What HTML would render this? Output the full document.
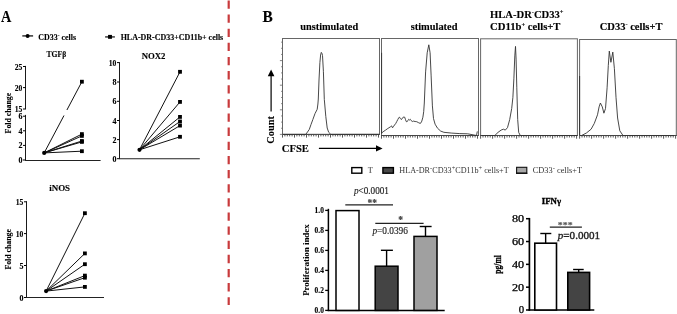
<!DOCTYPE html>
<html><head><meta charset="utf-8"><style>
html,body{margin:0;padding:0;background:#fff;}
body{width:677px;height:314px;overflow:hidden;font-family:"Liberation Serif",serif;}
svg{display:block;will-change:transform;}
</style></head><body>
<svg width="677" height="314" viewBox="0 0 677 314">
<rect width="677" height="314" fill="#fff"/>
<text x="1" y="21.7" font-size="16" font-weight="bold" fill="#000" text-anchor="start" font-family="Liberation Serif" stroke="#000" stroke-width="0.12" textLength="10.3" lengthAdjust="spacingAndGlyphs" >A</text>
<line x1="22.3" y1="35.9" x2="33.1" y2="35.9" stroke="#333" stroke-width="1.5" />
<circle cx="27.6" cy="35.9" r="2.0" fill="#000"/>
<text x="38.2" y="39.9" font-size="8.2" font-weight="bold" fill="#000" text-anchor="start" font-family="Liberation Serif" stroke="#000" stroke-width="0.12" textLength="37.8" lengthAdjust="spacingAndGlyphs" >CD33<tspan dy="-3" font-size="5.5">-</tspan><tspan dy="3"> cells</tspan></text>
<line x1="105.1" y1="36.9" x2="114.9" y2="36.9" stroke="#555" stroke-width="1.7" />
<rect x="108.05" y="34.90" width="3.9" height="3.9" fill="#000"/>
<text x="120.7" y="40.2" font-size="8.2" font-weight="bold" fill="#000" text-anchor="start" font-family="Liberation Serif" stroke="#000" stroke-width="0.12" textLength="102.5" lengthAdjust="spacingAndGlyphs" >HLA-DR-CD33+CD11b+ cells</text>
<text x="46.5" y="56.9" font-size="8.5" font-weight="bold" fill="#000" text-anchor="start" font-family="Liberation Serif" stroke="#000" stroke-width="0.12" textLength="19.7" lengthAdjust="spacingAndGlyphs" >TGFβ</text>
<line x1="25.5" y1="65.9" x2="25.5" y2="109.4" stroke="#1a1a1a" stroke-width="1.0" />
<line x1="25.5" y1="114.9" x2="25.5" y2="161" stroke="#1a1a1a" stroke-width="1.0" />
<line x1="23.0" y1="66.5" x2="25.5" y2="66.5" stroke="#000" stroke-width="1.0" />
<text x="22.4" y="69.5" font-size="7.8" font-weight="bold" fill="#000" text-anchor="end" font-family="Liberation Serif" stroke="#000" stroke-width="0.12" textLength="7.6" lengthAdjust="spacingAndGlyphs" >25</text>
<line x1="23.0" y1="87.6" x2="25.5" y2="87.6" stroke="#000" stroke-width="1.0" />
<text x="22.4" y="90.6" font-size="7.8" font-weight="bold" fill="#000" text-anchor="end" font-family="Liberation Serif" stroke="#000" stroke-width="0.12" textLength="7.6" lengthAdjust="spacingAndGlyphs" >20</text>
<line x1="23.0" y1="109" x2="25.5" y2="109" stroke="#000" stroke-width="1.0" />
<text x="22.4" y="112.0" font-size="7.8" font-weight="bold" fill="#000" text-anchor="end" font-family="Liberation Serif" stroke="#000" stroke-width="0.12" textLength="7.6" lengthAdjust="spacingAndGlyphs" >15</text>
<line x1="23.0" y1="116.2" x2="25.5" y2="116.2" stroke="#000" stroke-width="1.0" />
<text x="22.4" y="119.2" font-size="7.8" font-weight="bold" fill="#000" text-anchor="end" font-family="Liberation Serif" stroke="#000" stroke-width="0.12" textLength="4.0" lengthAdjust="spacingAndGlyphs" >6</text>
<line x1="23.0" y1="130.8" x2="25.5" y2="130.8" stroke="#000" stroke-width="1.0" />
<text x="22.4" y="133.8" font-size="7.8" font-weight="bold" fill="#000" text-anchor="end" font-family="Liberation Serif" stroke="#000" stroke-width="0.12" textLength="4.0" lengthAdjust="spacingAndGlyphs" >4</text>
<line x1="23.0" y1="145.4" x2="25.5" y2="145.4" stroke="#000" stroke-width="1.0" />
<text x="22.4" y="148.4" font-size="7.8" font-weight="bold" fill="#000" text-anchor="end" font-family="Liberation Serif" stroke="#000" stroke-width="0.12" textLength="4.0" lengthAdjust="spacingAndGlyphs" >2</text>
<line x1="23.0" y1="160" x2="25.5" y2="160" stroke="#000" stroke-width="1.0" />
<text x="22.4" y="163.0" font-size="7.8" font-weight="bold" fill="#000" text-anchor="end" font-family="Liberation Serif" stroke="#000" stroke-width="0.12" textLength="4.0" lengthAdjust="spacingAndGlyphs" >0</text>
<line x1="25" y1="160.5" x2="100.6" y2="160.5" stroke="#222" stroke-width="1.1" />
<line x1="44.2" y1="152.9" x2="81.9" y2="81.7" stroke="#111" stroke-width="1.0" />
<line x1="44.2" y1="152.9" x2="81.9" y2="134.1" stroke="#111" stroke-width="1.0" />
<line x1="44.2" y1="152.9" x2="81.9" y2="135.9" stroke="#111" stroke-width="1.0" />
<line x1="44.2" y1="152.9" x2="81.9" y2="141.0" stroke="#111" stroke-width="1.0" />
<line x1="44.2" y1="152.9" x2="81.9" y2="141.9" stroke="#111" stroke-width="1.0" />
<line x1="44.2" y1="152.9" x2="81.9" y2="151.2" stroke="#111" stroke-width="1.0" />
<rect x="60" y="110" width="8" height="5.5" fill="#fff"/>
<rect x="80.00" y="79.80" width="3.8" height="3.8" fill="#000"/>
<rect x="80.00" y="132.20" width="3.8" height="3.8" fill="#000"/>
<rect x="80.00" y="134.00" width="3.8" height="3.8" fill="#000"/>
<rect x="80.00" y="139.10" width="3.8" height="3.8" fill="#000"/>
<rect x="80.00" y="140.00" width="3.8" height="3.8" fill="#000"/>
<rect x="80.00" y="149.30" width="3.8" height="3.8" fill="#000"/>
<circle cx="44.2" cy="152.9" r="2.1" fill="#000"/>
<text x="141.7" y="58.5" font-size="8.5" font-weight="bold" fill="#000" text-anchor="start" font-family="Liberation Serif" stroke="#000" stroke-width="0.12" textLength="23.7" lengthAdjust="spacingAndGlyphs" >NOX2</text>
<line x1="119.5" y1="62.2" x2="119.5" y2="159" stroke="#1a1a1a" stroke-width="1.0" />
<line x1="117.0" y1="62.6" x2="119.5" y2="62.6" stroke="#000" stroke-width="1.0" />
<text x="116.4" y="65.6" font-size="7.8" font-weight="bold" fill="#000" text-anchor="end" font-family="Liberation Serif" stroke="#000" stroke-width="0.12" textLength="7.6" lengthAdjust="spacingAndGlyphs" >10</text>
<line x1="117.0" y1="82.0" x2="119.5" y2="82.0" stroke="#000" stroke-width="1.0" />
<text x="116.4" y="85.0" font-size="7.8" font-weight="bold" fill="#000" text-anchor="end" font-family="Liberation Serif" stroke="#000" stroke-width="0.12" textLength="4.0" lengthAdjust="spacingAndGlyphs" >8</text>
<line x1="117.0" y1="101.3" x2="119.5" y2="101.3" stroke="#000" stroke-width="1.0" />
<text x="116.4" y="104.3" font-size="7.8" font-weight="bold" fill="#000" text-anchor="end" font-family="Liberation Serif" stroke="#000" stroke-width="0.12" textLength="4.0" lengthAdjust="spacingAndGlyphs" >6</text>
<line x1="117.0" y1="120.5" x2="119.5" y2="120.5" stroke="#000" stroke-width="1.0" />
<text x="116.4" y="123.5" font-size="7.8" font-weight="bold" fill="#000" text-anchor="end" font-family="Liberation Serif" stroke="#000" stroke-width="0.12" textLength="4.0" lengthAdjust="spacingAndGlyphs" >4</text>
<line x1="117.0" y1="139.6" x2="119.5" y2="139.6" stroke="#000" stroke-width="1.0" />
<text x="116.4" y="142.6" font-size="7.8" font-weight="bold" fill="#000" text-anchor="end" font-family="Liberation Serif" stroke="#000" stroke-width="0.12" textLength="4.0" lengthAdjust="spacingAndGlyphs" >2</text>
<line x1="117.0" y1="158.7" x2="119.5" y2="158.7" stroke="#000" stroke-width="1.0" />
<text x="116.4" y="161.7" font-size="7.8" font-weight="bold" fill="#000" text-anchor="end" font-family="Liberation Serif" stroke="#000" stroke-width="0.12" textLength="4.0" lengthAdjust="spacingAndGlyphs" >0</text>
<line x1="119" y1="158.7" x2="199.8" y2="158.7" stroke="#222" stroke-width="1.1" />
<line x1="139.5" y1="149.8" x2="180" y2="71.8" stroke="#111" stroke-width="1.0" />
<line x1="139.5" y1="149.8" x2="180" y2="101.9" stroke="#111" stroke-width="1.0" />
<line x1="139.5" y1="149.8" x2="180" y2="116.9" stroke="#111" stroke-width="1.0" />
<line x1="139.5" y1="149.8" x2="180" y2="121.5" stroke="#111" stroke-width="1.0" />
<line x1="139.5" y1="149.8" x2="180" y2="125.6" stroke="#111" stroke-width="1.0" />
<line x1="139.5" y1="149.8" x2="180" y2="136.8" stroke="#111" stroke-width="1.0" />
<rect x="178.10" y="69.90" width="3.8" height="3.8" fill="#000"/>
<rect x="178.10" y="100.00" width="3.8" height="3.8" fill="#000"/>
<rect x="178.10" y="115.00" width="3.8" height="3.8" fill="#000"/>
<rect x="178.10" y="119.60" width="3.8" height="3.8" fill="#000"/>
<rect x="178.10" y="123.70" width="3.8" height="3.8" fill="#000"/>
<rect x="178.10" y="134.90" width="3.8" height="3.8" fill="#000"/>
<circle cx="139.5" cy="149.8" r="2.1" fill="#000"/>
<text x="49.2" y="190.9" font-size="8.7" font-weight="bold" fill="#000" text-anchor="start" font-family="Liberation Serif" stroke="#000" stroke-width="0.12" textLength="20.9" lengthAdjust="spacingAndGlyphs" >iNOS</text>
<line x1="26.5" y1="201.2" x2="26.5" y2="298" stroke="#1a1a1a" stroke-width="1.0" />
<line x1="24.0" y1="201.8" x2="26.5" y2="201.8" stroke="#000" stroke-width="1.0" />
<text x="23.4" y="204.8" font-size="7.8" font-weight="bold" fill="#000" text-anchor="end" font-family="Liberation Serif" stroke="#000" stroke-width="0.12" textLength="7.6" lengthAdjust="spacingAndGlyphs" >15</text>
<line x1="24.0" y1="233.6" x2="26.5" y2="233.6" stroke="#000" stroke-width="1.0" />
<text x="23.4" y="236.6" font-size="7.8" font-weight="bold" fill="#000" text-anchor="end" font-family="Liberation Serif" stroke="#000" stroke-width="0.12" textLength="7.6" lengthAdjust="spacingAndGlyphs" >10</text>
<line x1="24.0" y1="265.5" x2="26.5" y2="265.5" stroke="#000" stroke-width="1.0" />
<text x="23.4" y="268.5" font-size="7.8" font-weight="bold" fill="#000" text-anchor="end" font-family="Liberation Serif" stroke="#000" stroke-width="0.12" textLength="4.0" lengthAdjust="spacingAndGlyphs" >5</text>
<line x1="24.0" y1="297.5" x2="26.5" y2="297.5" stroke="#000" stroke-width="1.0" />
<text x="23.4" y="300.5" font-size="7.8" font-weight="bold" fill="#000" text-anchor="end" font-family="Liberation Serif" stroke="#000" stroke-width="0.12" textLength="4.0" lengthAdjust="spacingAndGlyphs" >0</text>
<line x1="26" y1="297.5" x2="104" y2="297.5" stroke="#222" stroke-width="1.1" />
<line x1="46.1" y1="291.1" x2="84.9" y2="213.2" stroke="#111" stroke-width="1.0" />
<line x1="46.1" y1="291.1" x2="84.9" y2="253.4" stroke="#111" stroke-width="1.0" />
<line x1="46.1" y1="291.1" x2="84.9" y2="264.2" stroke="#111" stroke-width="1.0" />
<line x1="46.1" y1="291.1" x2="84.9" y2="275.6" stroke="#111" stroke-width="1.0" />
<line x1="46.1" y1="291.1" x2="84.9" y2="277.7" stroke="#111" stroke-width="1.0" />
<line x1="46.1" y1="291.1" x2="84.9" y2="286.9" stroke="#111" stroke-width="1.0" />
<rect x="83.00" y="211.30" width="3.8" height="3.8" fill="#000"/>
<rect x="83.00" y="251.50" width="3.8" height="3.8" fill="#000"/>
<rect x="83.00" y="262.30" width="3.8" height="3.8" fill="#000"/>
<rect x="83.00" y="273.70" width="3.8" height="3.8" fill="#000"/>
<rect x="83.00" y="275.80" width="3.8" height="3.8" fill="#000"/>
<rect x="83.00" y="285.00" width="3.8" height="3.8" fill="#000"/>
<circle cx="46.1" cy="291.1" r="2.1" fill="#000"/>
<text x="10.9" y="113.1" font-size="7.8" font-weight="bold" fill="#000" text-anchor="middle" font-family="Liberation Serif" stroke="#000" stroke-width="0.12" textLength="40.6" lengthAdjust="spacingAndGlyphs" transform="rotate(-90 10.9 113.1)" >Fold change</text>
<text x="10.9" y="249.3" font-size="7.8" font-weight="bold" fill="#000" text-anchor="middle" font-family="Liberation Serif" stroke="#000" stroke-width="0.12" textLength="40.6" lengthAdjust="spacingAndGlyphs" transform="rotate(-90 10.9 249.3)" >Fold change</text>
<line x1="228.7" y1="0.4" x2="228.7" y2="305" stroke="#c83a3c" stroke-width="2.2" stroke-dasharray="8.3 5.835"/>
<text x="262.5" y="21.8" font-size="16" font-weight="bold" fill="#000" text-anchor="start" font-family="Liberation Serif" stroke="#000" stroke-width="0.12" textLength="10.3" lengthAdjust="spacingAndGlyphs" >B</text>
<text x="300.2" y="29.9" font-size="10" font-weight="bold" fill="#000" text-anchor="start" font-family="Liberation Serif" stroke="#000" stroke-width="0.12" textLength="58" lengthAdjust="spacingAndGlyphs" >unstimulated</text>
<text x="410.7" y="29.9" font-size="10" font-weight="bold" fill="#000" text-anchor="start" font-family="Liberation Serif" stroke="#000" stroke-width="0.12" textLength="46.8" lengthAdjust="spacingAndGlyphs" >stimulated</text>
<text x="490" y="17.9" font-size="10" font-weight="bold" fill="#000" text-anchor="start" font-family="Liberation Serif" stroke="#000" stroke-width="0.12" textLength="73.5" lengthAdjust="spacingAndGlyphs" >HLA-DR<tspan dy="-3.5" font-size="6">-</tspan><tspan dy="3.5">CD33</tspan><tspan dy="-3.5" font-size="6">+</tspan></text>
<text x="490" y="30" font-size="10" font-weight="bold" fill="#000" text-anchor="start" font-family="Liberation Serif" stroke="#000" stroke-width="0.12" textLength="70.5" lengthAdjust="spacingAndGlyphs" >CD11b<tspan dy="-3.5" font-size="6">+</tspan><tspan dy="3.5"> cells+T</tspan></text>
<text x="599.7" y="29.9" font-size="10" font-weight="bold" fill="#000" text-anchor="start" font-family="Liberation Serif" stroke="#000" stroke-width="0.12" textLength="62.8" lengthAdjust="spacingAndGlyphs" >CD33<tspan dy="-3.5" font-size="6">-</tspan><tspan dy="3.5"> cells+T</tspan></text>
<rect x="282.5" y="38.5" width="97.0" height="95.9" fill="none" stroke="#666" stroke-width="1"/>
<line x1="282.0" y1="134.4" x2="380.0" y2="134.4" stroke="#444" stroke-width="0.9" />
<line x1="282.50" y1="134.4" x2="282.50" y2="137.6" stroke="#444" stroke-width="0.9" />
<line x1="284.90" y1="134.4" x2="284.90" y2="136.4" stroke="#444" stroke-width="0.9" />
<line x1="287.30" y1="134.4" x2="287.30" y2="136.4" stroke="#444" stroke-width="0.9" />
<line x1="289.70" y1="134.4" x2="289.70" y2="136.4" stroke="#444" stroke-width="0.9" />
<line x1="292.10" y1="134.4" x2="292.10" y2="136.4" stroke="#444" stroke-width="0.9" />
<line x1="294.50" y1="134.4" x2="294.50" y2="137.6" stroke="#444" stroke-width="0.9" />
<line x1="296.90" y1="134.4" x2="296.90" y2="136.4" stroke="#444" stroke-width="0.9" />
<line x1="299.30" y1="134.4" x2="299.30" y2="136.4" stroke="#444" stroke-width="0.9" />
<line x1="301.70" y1="134.4" x2="301.70" y2="136.4" stroke="#444" stroke-width="0.9" />
<line x1="304.10" y1="134.4" x2="304.10" y2="136.4" stroke="#444" stroke-width="0.9" />
<line x1="306.50" y1="134.4" x2="306.50" y2="137.6" stroke="#444" stroke-width="0.9" />
<line x1="308.90" y1="134.4" x2="308.90" y2="136.4" stroke="#444" stroke-width="0.9" />
<line x1="311.30" y1="134.4" x2="311.30" y2="136.4" stroke="#444" stroke-width="0.9" />
<line x1="313.70" y1="134.4" x2="313.70" y2="136.4" stroke="#444" stroke-width="0.9" />
<line x1="316.10" y1="134.4" x2="316.10" y2="136.4" stroke="#444" stroke-width="0.9" />
<line x1="318.50" y1="134.4" x2="318.50" y2="137.6" stroke="#444" stroke-width="0.9" />
<line x1="320.90" y1="134.4" x2="320.90" y2="136.4" stroke="#444" stroke-width="0.9" />
<line x1="323.30" y1="134.4" x2="323.30" y2="136.4" stroke="#444" stroke-width="0.9" />
<line x1="325.70" y1="134.4" x2="325.70" y2="136.4" stroke="#444" stroke-width="0.9" />
<line x1="328.10" y1="134.4" x2="328.10" y2="136.4" stroke="#444" stroke-width="0.9" />
<line x1="330.50" y1="134.4" x2="330.50" y2="137.6" stroke="#444" stroke-width="0.9" />
<line x1="332.90" y1="134.4" x2="332.90" y2="136.4" stroke="#444" stroke-width="0.9" />
<line x1="335.30" y1="134.4" x2="335.30" y2="136.4" stroke="#444" stroke-width="0.9" />
<line x1="337.70" y1="134.4" x2="337.70" y2="136.4" stroke="#444" stroke-width="0.9" />
<line x1="340.10" y1="134.4" x2="340.10" y2="136.4" stroke="#444" stroke-width="0.9" />
<line x1="342.50" y1="134.4" x2="342.50" y2="137.6" stroke="#444" stroke-width="0.9" />
<line x1="344.90" y1="134.4" x2="344.90" y2="136.4" stroke="#444" stroke-width="0.9" />
<line x1="347.30" y1="134.4" x2="347.30" y2="136.4" stroke="#444" stroke-width="0.9" />
<line x1="349.70" y1="134.4" x2="349.70" y2="136.4" stroke="#444" stroke-width="0.9" />
<line x1="352.10" y1="134.4" x2="352.10" y2="136.4" stroke="#444" stroke-width="0.9" />
<line x1="354.50" y1="134.4" x2="354.50" y2="137.6" stroke="#444" stroke-width="0.9" />
<line x1="356.90" y1="134.4" x2="356.90" y2="136.4" stroke="#444" stroke-width="0.9" />
<line x1="359.30" y1="134.4" x2="359.30" y2="136.4" stroke="#444" stroke-width="0.9" />
<line x1="361.70" y1="134.4" x2="361.70" y2="136.4" stroke="#444" stroke-width="0.9" />
<line x1="364.10" y1="134.4" x2="364.10" y2="136.4" stroke="#444" stroke-width="0.9" />
<line x1="366.50" y1="134.4" x2="366.50" y2="137.6" stroke="#444" stroke-width="0.9" />
<line x1="368.90" y1="134.4" x2="368.90" y2="136.4" stroke="#444" stroke-width="0.9" />
<line x1="371.30" y1="134.4" x2="371.30" y2="136.4" stroke="#444" stroke-width="0.9" />
<line x1="373.70" y1="134.4" x2="373.70" y2="136.4" stroke="#444" stroke-width="0.9" />
<line x1="376.10" y1="134.4" x2="376.10" y2="136.4" stroke="#444" stroke-width="0.9" />
<line x1="378.50" y1="134.4" x2="378.50" y2="137.6" stroke="#444" stroke-width="0.9" />
<rect x="381.5" y="38.5" width="97.0" height="97.0" fill="none" stroke="#666" stroke-width="1"/>
<line x1="381.0" y1="135.5" x2="479.0" y2="135.5" stroke="#444" stroke-width="0.9" />
<line x1="381.50" y1="135.5" x2="381.50" y2="138.7" stroke="#444" stroke-width="0.9" />
<line x1="383.90" y1="135.5" x2="383.90" y2="137.5" stroke="#444" stroke-width="0.9" />
<line x1="386.30" y1="135.5" x2="386.30" y2="137.5" stroke="#444" stroke-width="0.9" />
<line x1="388.70" y1="135.5" x2="388.70" y2="137.5" stroke="#444" stroke-width="0.9" />
<line x1="391.10" y1="135.5" x2="391.10" y2="137.5" stroke="#444" stroke-width="0.9" />
<line x1="393.50" y1="135.5" x2="393.50" y2="138.7" stroke="#444" stroke-width="0.9" />
<line x1="395.90" y1="135.5" x2="395.90" y2="137.5" stroke="#444" stroke-width="0.9" />
<line x1="398.30" y1="135.5" x2="398.30" y2="137.5" stroke="#444" stroke-width="0.9" />
<line x1="400.70" y1="135.5" x2="400.70" y2="137.5" stroke="#444" stroke-width="0.9" />
<line x1="403.10" y1="135.5" x2="403.10" y2="137.5" stroke="#444" stroke-width="0.9" />
<line x1="405.50" y1="135.5" x2="405.50" y2="138.7" stroke="#444" stroke-width="0.9" />
<line x1="407.90" y1="135.5" x2="407.90" y2="137.5" stroke="#444" stroke-width="0.9" />
<line x1="410.30" y1="135.5" x2="410.30" y2="137.5" stroke="#444" stroke-width="0.9" />
<line x1="412.70" y1="135.5" x2="412.70" y2="137.5" stroke="#444" stroke-width="0.9" />
<line x1="415.10" y1="135.5" x2="415.10" y2="137.5" stroke="#444" stroke-width="0.9" />
<line x1="417.50" y1="135.5" x2="417.50" y2="138.7" stroke="#444" stroke-width="0.9" />
<line x1="419.90" y1="135.5" x2="419.90" y2="137.5" stroke="#444" stroke-width="0.9" />
<line x1="422.30" y1="135.5" x2="422.30" y2="137.5" stroke="#444" stroke-width="0.9" />
<line x1="424.70" y1="135.5" x2="424.70" y2="137.5" stroke="#444" stroke-width="0.9" />
<line x1="427.10" y1="135.5" x2="427.10" y2="137.5" stroke="#444" stroke-width="0.9" />
<line x1="429.50" y1="135.5" x2="429.50" y2="138.7" stroke="#444" stroke-width="0.9" />
<line x1="431.90" y1="135.5" x2="431.90" y2="137.5" stroke="#444" stroke-width="0.9" />
<line x1="434.30" y1="135.5" x2="434.30" y2="137.5" stroke="#444" stroke-width="0.9" />
<line x1="436.70" y1="135.5" x2="436.70" y2="137.5" stroke="#444" stroke-width="0.9" />
<line x1="439.10" y1="135.5" x2="439.10" y2="137.5" stroke="#444" stroke-width="0.9" />
<line x1="441.50" y1="135.5" x2="441.50" y2="138.7" stroke="#444" stroke-width="0.9" />
<line x1="443.90" y1="135.5" x2="443.90" y2="137.5" stroke="#444" stroke-width="0.9" />
<line x1="446.30" y1="135.5" x2="446.30" y2="137.5" stroke="#444" stroke-width="0.9" />
<line x1="448.70" y1="135.5" x2="448.70" y2="137.5" stroke="#444" stroke-width="0.9" />
<line x1="451.10" y1="135.5" x2="451.10" y2="137.5" stroke="#444" stroke-width="0.9" />
<line x1="453.50" y1="135.5" x2="453.50" y2="138.7" stroke="#444" stroke-width="0.9" />
<line x1="455.90" y1="135.5" x2="455.90" y2="137.5" stroke="#444" stroke-width="0.9" />
<line x1="458.30" y1="135.5" x2="458.30" y2="137.5" stroke="#444" stroke-width="0.9" />
<line x1="460.70" y1="135.5" x2="460.70" y2="137.5" stroke="#444" stroke-width="0.9" />
<line x1="463.10" y1="135.5" x2="463.10" y2="137.5" stroke="#444" stroke-width="0.9" />
<line x1="465.50" y1="135.5" x2="465.50" y2="138.7" stroke="#444" stroke-width="0.9" />
<line x1="467.90" y1="135.5" x2="467.90" y2="137.5" stroke="#444" stroke-width="0.9" />
<line x1="470.30" y1="135.5" x2="470.30" y2="137.5" stroke="#444" stroke-width="0.9" />
<line x1="472.70" y1="135.5" x2="472.70" y2="137.5" stroke="#444" stroke-width="0.9" />
<line x1="475.10" y1="135.5" x2="475.10" y2="137.5" stroke="#444" stroke-width="0.9" />
<line x1="477.50" y1="135.5" x2="477.50" y2="138.7" stroke="#444" stroke-width="0.9" />
<rect x="480.6" y="38.8" width="96.79999999999995" height="96.7" fill="none" stroke="#666" stroke-width="1"/>
<line x1="480.1" y1="135.5" x2="577.9" y2="135.5" stroke="#444" stroke-width="0.9" />
<line x1="480.60" y1="135.5" x2="480.60" y2="138.7" stroke="#444" stroke-width="0.9" />
<line x1="483.00" y1="135.5" x2="483.00" y2="137.5" stroke="#444" stroke-width="0.9" />
<line x1="485.40" y1="135.5" x2="485.40" y2="137.5" stroke="#444" stroke-width="0.9" />
<line x1="487.80" y1="135.5" x2="487.80" y2="137.5" stroke="#444" stroke-width="0.9" />
<line x1="490.20" y1="135.5" x2="490.20" y2="137.5" stroke="#444" stroke-width="0.9" />
<line x1="492.60" y1="135.5" x2="492.60" y2="138.7" stroke="#444" stroke-width="0.9" />
<line x1="495.00" y1="135.5" x2="495.00" y2="137.5" stroke="#444" stroke-width="0.9" />
<line x1="497.40" y1="135.5" x2="497.40" y2="137.5" stroke="#444" stroke-width="0.9" />
<line x1="499.80" y1="135.5" x2="499.80" y2="137.5" stroke="#444" stroke-width="0.9" />
<line x1="502.20" y1="135.5" x2="502.20" y2="137.5" stroke="#444" stroke-width="0.9" />
<line x1="504.60" y1="135.5" x2="504.60" y2="138.7" stroke="#444" stroke-width="0.9" />
<line x1="507.00" y1="135.5" x2="507.00" y2="137.5" stroke="#444" stroke-width="0.9" />
<line x1="509.40" y1="135.5" x2="509.40" y2="137.5" stroke="#444" stroke-width="0.9" />
<line x1="511.80" y1="135.5" x2="511.80" y2="137.5" stroke="#444" stroke-width="0.9" />
<line x1="514.20" y1="135.5" x2="514.20" y2="137.5" stroke="#444" stroke-width="0.9" />
<line x1="516.60" y1="135.5" x2="516.60" y2="138.7" stroke="#444" stroke-width="0.9" />
<line x1="519.00" y1="135.5" x2="519.00" y2="137.5" stroke="#444" stroke-width="0.9" />
<line x1="521.40" y1="135.5" x2="521.40" y2="137.5" stroke="#444" stroke-width="0.9" />
<line x1="523.80" y1="135.5" x2="523.80" y2="137.5" stroke="#444" stroke-width="0.9" />
<line x1="526.20" y1="135.5" x2="526.20" y2="137.5" stroke="#444" stroke-width="0.9" />
<line x1="528.60" y1="135.5" x2="528.60" y2="138.7" stroke="#444" stroke-width="0.9" />
<line x1="531.00" y1="135.5" x2="531.00" y2="137.5" stroke="#444" stroke-width="0.9" />
<line x1="533.40" y1="135.5" x2="533.40" y2="137.5" stroke="#444" stroke-width="0.9" />
<line x1="535.80" y1="135.5" x2="535.80" y2="137.5" stroke="#444" stroke-width="0.9" />
<line x1="538.20" y1="135.5" x2="538.20" y2="137.5" stroke="#444" stroke-width="0.9" />
<line x1="540.60" y1="135.5" x2="540.60" y2="138.7" stroke="#444" stroke-width="0.9" />
<line x1="543.00" y1="135.5" x2="543.00" y2="137.5" stroke="#444" stroke-width="0.9" />
<line x1="545.40" y1="135.5" x2="545.40" y2="137.5" stroke="#444" stroke-width="0.9" />
<line x1="547.80" y1="135.5" x2="547.80" y2="137.5" stroke="#444" stroke-width="0.9" />
<line x1="550.20" y1="135.5" x2="550.20" y2="137.5" stroke="#444" stroke-width="0.9" />
<line x1="552.60" y1="135.5" x2="552.60" y2="138.7" stroke="#444" stroke-width="0.9" />
<line x1="555.00" y1="135.5" x2="555.00" y2="137.5" stroke="#444" stroke-width="0.9" />
<line x1="557.40" y1="135.5" x2="557.40" y2="137.5" stroke="#444" stroke-width="0.9" />
<line x1="559.80" y1="135.5" x2="559.80" y2="137.5" stroke="#444" stroke-width="0.9" />
<line x1="562.20" y1="135.5" x2="562.20" y2="137.5" stroke="#444" stroke-width="0.9" />
<line x1="564.60" y1="135.5" x2="564.60" y2="138.7" stroke="#444" stroke-width="0.9" />
<line x1="567.00" y1="135.5" x2="567.00" y2="137.5" stroke="#444" stroke-width="0.9" />
<line x1="569.40" y1="135.5" x2="569.40" y2="137.5" stroke="#444" stroke-width="0.9" />
<line x1="571.80" y1="135.5" x2="571.80" y2="137.5" stroke="#444" stroke-width="0.9" />
<line x1="574.20" y1="135.5" x2="574.20" y2="137.5" stroke="#444" stroke-width="0.9" />
<line x1="576.60" y1="135.5" x2="576.60" y2="138.7" stroke="#444" stroke-width="0.9" />
<rect x="579.6" y="39.5" width="96.69999999999993" height="96.0" fill="none" stroke="#666" stroke-width="1"/>
<line x1="579.1" y1="135.5" x2="676.8" y2="135.5" stroke="#444" stroke-width="0.9" />
<line x1="579.60" y1="135.5" x2="579.60" y2="138.7" stroke="#444" stroke-width="0.9" />
<line x1="582.00" y1="135.5" x2="582.00" y2="137.5" stroke="#444" stroke-width="0.9" />
<line x1="584.40" y1="135.5" x2="584.40" y2="137.5" stroke="#444" stroke-width="0.9" />
<line x1="586.80" y1="135.5" x2="586.80" y2="137.5" stroke="#444" stroke-width="0.9" />
<line x1="589.20" y1="135.5" x2="589.20" y2="137.5" stroke="#444" stroke-width="0.9" />
<line x1="591.60" y1="135.5" x2="591.60" y2="138.7" stroke="#444" stroke-width="0.9" />
<line x1="594.00" y1="135.5" x2="594.00" y2="137.5" stroke="#444" stroke-width="0.9" />
<line x1="596.40" y1="135.5" x2="596.40" y2="137.5" stroke="#444" stroke-width="0.9" />
<line x1="598.80" y1="135.5" x2="598.80" y2="137.5" stroke="#444" stroke-width="0.9" />
<line x1="601.20" y1="135.5" x2="601.20" y2="137.5" stroke="#444" stroke-width="0.9" />
<line x1="603.60" y1="135.5" x2="603.60" y2="138.7" stroke="#444" stroke-width="0.9" />
<line x1="606.00" y1="135.5" x2="606.00" y2="137.5" stroke="#444" stroke-width="0.9" />
<line x1="608.40" y1="135.5" x2="608.40" y2="137.5" stroke="#444" stroke-width="0.9" />
<line x1="610.80" y1="135.5" x2="610.80" y2="137.5" stroke="#444" stroke-width="0.9" />
<line x1="613.20" y1="135.5" x2="613.20" y2="137.5" stroke="#444" stroke-width="0.9" />
<line x1="615.60" y1="135.5" x2="615.60" y2="138.7" stroke="#444" stroke-width="0.9" />
<line x1="618.00" y1="135.5" x2="618.00" y2="137.5" stroke="#444" stroke-width="0.9" />
<line x1="620.40" y1="135.5" x2="620.40" y2="137.5" stroke="#444" stroke-width="0.9" />
<line x1="622.80" y1="135.5" x2="622.80" y2="137.5" stroke="#444" stroke-width="0.9" />
<line x1="625.20" y1="135.5" x2="625.20" y2="137.5" stroke="#444" stroke-width="0.9" />
<line x1="627.60" y1="135.5" x2="627.60" y2="138.7" stroke="#444" stroke-width="0.9" />
<line x1="630.00" y1="135.5" x2="630.00" y2="137.5" stroke="#444" stroke-width="0.9" />
<line x1="632.40" y1="135.5" x2="632.40" y2="137.5" stroke="#444" stroke-width="0.9" />
<line x1="634.80" y1="135.5" x2="634.80" y2="137.5" stroke="#444" stroke-width="0.9" />
<line x1="637.20" y1="135.5" x2="637.20" y2="137.5" stroke="#444" stroke-width="0.9" />
<line x1="639.60" y1="135.5" x2="639.60" y2="138.7" stroke="#444" stroke-width="0.9" />
<line x1="642.00" y1="135.5" x2="642.00" y2="137.5" stroke="#444" stroke-width="0.9" />
<line x1="644.40" y1="135.5" x2="644.40" y2="137.5" stroke="#444" stroke-width="0.9" />
<line x1="646.80" y1="135.5" x2="646.80" y2="137.5" stroke="#444" stroke-width="0.9" />
<line x1="649.20" y1="135.5" x2="649.20" y2="137.5" stroke="#444" stroke-width="0.9" />
<line x1="651.60" y1="135.5" x2="651.60" y2="138.7" stroke="#444" stroke-width="0.9" />
<line x1="654.00" y1="135.5" x2="654.00" y2="137.5" stroke="#444" stroke-width="0.9" />
<line x1="656.40" y1="135.5" x2="656.40" y2="137.5" stroke="#444" stroke-width="0.9" />
<line x1="658.80" y1="135.5" x2="658.80" y2="137.5" stroke="#444" stroke-width="0.9" />
<line x1="661.20" y1="135.5" x2="661.20" y2="137.5" stroke="#444" stroke-width="0.9" />
<line x1="663.60" y1="135.5" x2="663.60" y2="138.7" stroke="#444" stroke-width="0.9" />
<line x1="666.00" y1="135.5" x2="666.00" y2="137.5" stroke="#444" stroke-width="0.9" />
<line x1="668.40" y1="135.5" x2="668.40" y2="137.5" stroke="#444" stroke-width="0.9" />
<line x1="670.80" y1="135.5" x2="670.80" y2="137.5" stroke="#444" stroke-width="0.9" />
<line x1="673.20" y1="135.5" x2="673.20" y2="137.5" stroke="#444" stroke-width="0.9" />
<line x1="675.60" y1="135.5" x2="675.60" y2="138.7" stroke="#444" stroke-width="0.9" />
<line x1="279.9" y1="134.40" x2="282.5" y2="134.40" stroke="#666" stroke-width="0.8" />
<line x1="281.1" y1="128.25" x2="282.5" y2="128.25" stroke="#666" stroke-width="0.8" />
<line x1="281.1" y1="122.10" x2="282.5" y2="122.10" stroke="#666" stroke-width="0.8" />
<line x1="281.1" y1="115.95" x2="282.5" y2="115.95" stroke="#666" stroke-width="0.8" />
<line x1="279.9" y1="109.80" x2="282.5" y2="109.80" stroke="#666" stroke-width="0.8" />
<line x1="281.1" y1="103.65" x2="282.5" y2="103.65" stroke="#666" stroke-width="0.8" />
<line x1="281.1" y1="97.50" x2="282.5" y2="97.50" stroke="#666" stroke-width="0.8" />
<line x1="281.1" y1="91.35" x2="282.5" y2="91.35" stroke="#666" stroke-width="0.8" />
<line x1="279.9" y1="85.20" x2="282.5" y2="85.20" stroke="#666" stroke-width="0.8" />
<line x1="281.1" y1="79.05" x2="282.5" y2="79.05" stroke="#666" stroke-width="0.8" />
<line x1="281.1" y1="72.90" x2="282.5" y2="72.90" stroke="#666" stroke-width="0.8" />
<line x1="281.1" y1="66.75" x2="282.5" y2="66.75" stroke="#666" stroke-width="0.8" />
<line x1="279.9" y1="60.60" x2="282.5" y2="60.60" stroke="#666" stroke-width="0.8" />
<line x1="281.1" y1="54.45" x2="282.5" y2="54.45" stroke="#666" stroke-width="0.8" />
<line x1="281.1" y1="48.30" x2="282.5" y2="48.30" stroke="#666" stroke-width="0.8" />
<line x1="281.1" y1="42.15" x2="282.5" y2="42.15" stroke="#666" stroke-width="0.8" />
<path d="M283.0 134.4 L304.5 134.4 L305.7 134.4 L307.5 132.0 L309.3 129.4 L311.0 124.5 L312.9 119.4 L315.0 113.6 L317.2 109.3 L317.9 104.0 L318.3 99.0 L319.0 80.0 L319.9 62.5 L320.6 55.0 L321.3 52.4 L322.0 53.5 L322.5 55.5 L323.4 71.3 L324.3 99.4 L324.8 105.0 L325.8 116.5 L327.2 128.0 L328.7 132.3 L330.8 134.4 L333.0 134.4 L379.0 134.4" fill="none" stroke="#333" stroke-width="0.9" stroke-linejoin="round"/>
<path d="M381.6 52.8 L381.6 133.5 L382.4 132.3 L383.9 131.2 L385.6 130.1 L387.2 128.9 L388.9 127.8 L390.6 126.7 L391.7 125.9 L392.5 127.8 L393.4 126.7 L394.5 125.0 L395.6 123.7 L396.7 121.7 L397.8 119.5 L398.9 117.5 L399.5 117.2 L400.3 118.4 L401.2 119.5 L402.0 118.9 L402.8 117.5 L403.9 117.0 L404.7 117.2 L405.4 119.3 L406.2 121.5 L406.9 121.9 L407.8 120.6 L408.7 119.3 L409.5 120.0 L410.3 119.3 L411.2 120.6 L412.3 121.5 L413.4 121.1 L415.1 121.5 L416.7 121.7 L418.4 122.6 L420.1 123.4 L421.0 122.8 L421.8 121.1 L422.9 117.2 L423.7 111.7 L424.3 103.0 L425.6 71.9 L427.2 52.8 L428.8 44.8 L430.1 52.8 L431.1 75.1 L432.4 105.9 L433.5 118.6 L435.1 124.2 L437.5 128.2 L440.7 131.1 L443.9 132.3 L451.8 133.1 L459.8 133.6 L467.7 133.8 L476.5 135.5 L477.3 131.4" fill="none" stroke="#333" stroke-width="0.9" stroke-linejoin="round"/>
<path d="M481.5 135.5 L494.8 135.5 L498.0 132.4 L501.1 130.1 L503.4 129.2 L505.3 130.1 L507.5 127.6 L509.7 119.6 L511.7 108.5 L512.9 97.3 L513.9 78.2 L514.8 55.9 L515.5 46.4 L516.1 59.1 L516.8 87.8 L517.7 119.6 L518.7 132.4 L520.3 135.5 L577.0 135.5" fill="none" stroke="#333" stroke-width="0.9" stroke-linejoin="round"/>
<path d="M580.0 135.5 L581.6 135.5 L586.4 133.0 L591.1 129.2 L594.3 123.4 L597.5 114.8 L599.1 106.9 L600.4 103.0 L602.3 106.9 L603.9 113.2 L605.5 108.5 L607.1 87.8 L608.3 65.5 L609.3 51.1 L610.9 62.3 L612.8 52.1 L614.4 68.7 L616.0 97.3 L617.6 118.0 L619.8 130.8 L623.0 135.5 L674.0 135.5" fill="none" stroke="#333" stroke-width="0.9" stroke-linejoin="round"/>
<line x1="579.6" y1="76" x2="579.6" y2="135" stroke="#333" stroke-width="1.0" />
<text x="273.7" y="129.9" font-size="10.8" font-weight="bold" fill="#000" text-anchor="middle" font-family="Liberation Serif" stroke="#000" stroke-width="0.12" textLength="27.6" lengthAdjust="spacingAndGlyphs" transform="rotate(-90 273.7 129.9)" >Count</text>
<line x1="271.1" y1="111.4" x2="271.1" y2="75" stroke="#000" stroke-width="1.2" />
<path d="M271.1 69.4 L267.8 76.2 L274.4 76.2 Z" fill="#000"/>
<text x="281.7" y="151.9" font-size="11" font-weight="bold" fill="#000" text-anchor="start" font-family="Liberation Serif" stroke="#000" stroke-width="0.12" textLength="27.3" lengthAdjust="spacingAndGlyphs" >CFSE</text>
<line x1="318.9" y1="148.4" x2="377" y2="148.4" stroke="#000" stroke-width="1.2" />
<path d="M382.6 148.4 L376 145.2 L376 151.6 Z" fill="#000"/>
<rect x="351.8" y="167.6" width="10" height="5.6" fill="#fff" stroke="#000" stroke-width="1.4"/>
<text x="367.7" y="172.9" font-size="8.2" font-weight="bold" fill="#777" text-anchor="start" font-family="Liberation Serif" textLength="5.3" lengthAdjust="spacingAndGlyphs" >T</text>
<rect x="382.9" y="167.6" width="10.5" height="5.6" fill="#484848" stroke="#000" stroke-width="1.4"/>
<text x="399.3" y="172.9" font-size="8.2" font-weight="normal" fill="#333" text-anchor="start" font-family="Liberation Serif" textLength="109.4" lengthAdjust="spacingAndGlyphs" >HLA-DR<tspan dy="-3" font-size="6.5">-</tspan><tspan dy="3">CD33</tspan><tspan dy="-3" font-size="6.5">+</tspan><tspan dy="3">CD11b</tspan><tspan dy="-3" font-size="6.5">+</tspan><tspan dy="3"> cells+T</tspan></text>
<rect x="516.6" y="167.3" width="10.2" height="5.8" fill="#a8a8a8" stroke="#111" stroke-width="1.1"/>
<line x1="516" y1="173.3" x2="527.4" y2="173.3" stroke="#000" stroke-width="1.0" />
<text x="532.8" y="172.9" font-size="8.2" font-weight="normal" fill="#333" text-anchor="start" font-family="Liberation Serif" textLength="49.2" lengthAdjust="spacingAndGlyphs" >CD33<tspan dy="-3" font-size="6.5">-</tspan><tspan dy="3"> cells+T</tspan></text>
<line x1="328.4" y1="208.8" x2="328.4" y2="311.09999999999997" stroke="#000" stroke-width="1.5" />
<line x1="325.2" y1="210.39999999999998" x2="328.4" y2="210.39999999999998" stroke="#000" stroke-width="1.3" />
<text x="323.9" y="212.99999999999997" font-size="7.6" font-weight="bold" fill="#000" text-anchor="end" font-family="Liberation Serif" stroke="#000" stroke-width="0.12" textLength="9.3" lengthAdjust="spacingAndGlyphs" >1.0</text>
<line x1="325.2" y1="230.39999999999998" x2="328.4" y2="230.39999999999998" stroke="#000" stroke-width="1.3" />
<text x="323.9" y="232.99999999999997" font-size="7.6" font-weight="bold" fill="#000" text-anchor="end" font-family="Liberation Serif" stroke="#000" stroke-width="0.12" textLength="9.3" lengthAdjust="spacingAndGlyphs" >0.8</text>
<line x1="325.2" y1="250.39999999999998" x2="328.4" y2="250.39999999999998" stroke="#000" stroke-width="1.3" />
<text x="323.9" y="252.99999999999997" font-size="7.6" font-weight="bold" fill="#000" text-anchor="end" font-family="Liberation Serif" stroke="#000" stroke-width="0.12" textLength="9.3" lengthAdjust="spacingAndGlyphs" >0.6</text>
<line x1="325.2" y1="270.4" x2="328.4" y2="270.4" stroke="#000" stroke-width="1.3" />
<text x="323.9" y="273.0" font-size="7.6" font-weight="bold" fill="#000" text-anchor="end" font-family="Liberation Serif" stroke="#000" stroke-width="0.12" textLength="9.3" lengthAdjust="spacingAndGlyphs" >0.4</text>
<line x1="325.2" y1="290.4" x2="328.4" y2="290.4" stroke="#000" stroke-width="1.3" />
<text x="323.9" y="293.0" font-size="7.6" font-weight="bold" fill="#000" text-anchor="end" font-family="Liberation Serif" stroke="#000" stroke-width="0.12" textLength="9.3" lengthAdjust="spacingAndGlyphs" >0.2</text>
<line x1="325.2" y1="310.4" x2="328.4" y2="310.4" stroke="#000" stroke-width="1.3" />
<text x="323.9" y="313.0" font-size="7.6" font-weight="bold" fill="#000" text-anchor="end" font-family="Liberation Serif" stroke="#000" stroke-width="0.12" textLength="9.3" lengthAdjust="spacingAndGlyphs" >0.0</text>
<line x1="327.7" y1="310.4" x2="444.7" y2="310.4" stroke="#000" stroke-width="1.5" />
<rect x="336" y="210.6" width="23" height="99.79999999999998" fill="#fff" stroke="#000" stroke-width="1.5"/>
<line x1="386.6" y1="266.2" x2="386.6" y2="250.3" stroke="#000" stroke-width="1.4" />
<line x1="380.9" y1="250.3" x2="392.9" y2="250.3" stroke="#000" stroke-width="1.4" />
<rect x="375.2" y="266.2" width="22.80000000000001" height="44.19999999999999" fill="#444" stroke="#000" stroke-width="1.5"/>
<line x1="425.5" y1="236.4" x2="425.5" y2="226.5" stroke="#000" stroke-width="1.4" />
<line x1="419.7" y1="226.5" x2="431.6" y2="226.5" stroke="#000" stroke-width="1.4" />
<rect x="414" y="236.4" width="23" height="73.99999999999997" fill="#a0a0a0" stroke="#000" stroke-width="1.5"/>
<line x1="345.3" y1="204.9" x2="393" y2="204.9" stroke="#222" stroke-width="1.3" />
<text x="372.3" y="205.7" font-size="9.5" font-weight="bold" fill="#333" text-anchor="middle" font-family="Liberation Serif" stroke="#333" stroke-width="0.1" >**</text>
<line x1="375.3" y1="223.4" x2="423.6" y2="223.4" stroke="#222" stroke-width="1.3" />
<text x="400.7" y="222.8" font-size="9.5" font-weight="bold" fill="#333" text-anchor="middle" font-family="Liberation Serif" stroke="#333" stroke-width="0.12" >*</text>
<text x="353.9" y="194.4" font-size="10" font-weight="normal" fill="#222" text-anchor="start" font-family="Liberation Serif" stroke="#222" stroke-width="0.15" textLength="35" lengthAdjust="spacingAndGlyphs" ><tspan font-style="italic">p</tspan>&lt;0.0001</text>
<text x="372.4" y="234.4" font-size="9.6" font-weight="normal" fill="#222" text-anchor="start" font-family="Liberation Serif" stroke="#222" stroke-width="0.15" textLength="35.5" lengthAdjust="spacingAndGlyphs" ><tspan font-style="italic">p</tspan>=0.0396</text>
<text x="309.5" y="260.1" font-size="8.4" font-weight="bold" fill="#000" text-anchor="middle" font-family="Liberation Serif" stroke="#000" stroke-width="0.05" textLength="71.5" lengthAdjust="spacingAndGlyphs" transform="rotate(-90 309.5 260.1)" >Proliferation index</text>
<line x1="529.4" y1="217.9" x2="529.4" y2="310.8" stroke="#000" stroke-width="1.7" />
<line x1="526" y1="218.704" x2="529.4" y2="218.704" stroke="#000" stroke-width="1.5" />
<text x="524.2" y="222.104" font-size="9.4" font-weight="normal" fill="#000" text-anchor="end" font-family="Liberation Serif" stroke="#000" stroke-width="0.25" textLength="12.2" lengthAdjust="spacingAndGlyphs" >80</text>
<line x1="526" y1="241.52800000000002" x2="529.4" y2="241.52800000000002" stroke="#000" stroke-width="1.5" />
<text x="524.2" y="244.92800000000003" font-size="9.4" font-weight="normal" fill="#000" text-anchor="end" font-family="Liberation Serif" stroke="#000" stroke-width="0.25" textLength="12.2" lengthAdjust="spacingAndGlyphs" >60</text>
<line x1="526" y1="264.352" x2="529.4" y2="264.352" stroke="#000" stroke-width="1.5" />
<text x="524.2" y="267.75199999999995" font-size="9.4" font-weight="normal" fill="#000" text-anchor="end" font-family="Liberation Serif" stroke="#000" stroke-width="0.25" textLength="12.2" lengthAdjust="spacingAndGlyphs" >40</text>
<line x1="526" y1="287.176" x2="529.4" y2="287.176" stroke="#000" stroke-width="1.5" />
<text x="524.2" y="290.57599999999996" font-size="9.4" font-weight="normal" fill="#000" text-anchor="end" font-family="Liberation Serif" stroke="#000" stroke-width="0.25" textLength="12.2" lengthAdjust="spacingAndGlyphs" >20</text>
<line x1="526" y1="310.0" x2="529.4" y2="310.0" stroke="#000" stroke-width="1.5" />
<text x="524.2" y="313.4" font-size="9.4" font-weight="normal" fill="#000" text-anchor="end" font-family="Liberation Serif" stroke="#000" stroke-width="0.25" textLength="5.4" lengthAdjust="spacingAndGlyphs" >0</text>
<line x1="528.6" y1="310.0" x2="594.3" y2="310.0" stroke="#000" stroke-width="1.7" />
<line x1="545.65" y1="243.2" x2="545.65" y2="233.5" stroke="#000" stroke-width="1.4" />
<line x1="540.3" y1="233.5" x2="551.3" y2="233.5" stroke="#000" stroke-width="1.4" />
<rect x="534.8" y="243.2" width="21.700000000000045" height="66.80000000000001" fill="#fff" stroke="#000" stroke-width="1.6"/>
<line x1="578.7" y1="272.4" x2="578.7" y2="269.5" stroke="#000" stroke-width="1.4" />
<line x1="573.1" y1="269.5" x2="583.7" y2="269.5" stroke="#000" stroke-width="1.4" />
<rect x="567.8" y="272.4" width="21.800000000000068" height="37.60000000000002" fill="#444" stroke="#000" stroke-width="1.6"/>
<line x1="549.8" y1="227.2" x2="581.9" y2="227.2" stroke="#222" stroke-width="1.3" />
<text x="565.2" y="228.2" font-size="9" font-weight="bold" fill="#555" text-anchor="middle" font-family="Liberation Serif" stroke="#555" stroke-width="0.12" textLength="14.9" lengthAdjust="spacingAndGlyphs" >***</text>
<text x="557.8" y="239.3" font-size="9.4" font-weight="normal" fill="#222" text-anchor="start" font-family="Liberation Serif" stroke="#222" stroke-width="0.3" textLength="42.3" lengthAdjust="spacingAndGlyphs" ><tspan font-style="italic">p</tspan>=0.0001</text>
<text x="541.8" y="204.3" font-size="8.7" font-weight="bold" fill="#000" text-anchor="start" font-family="Liberation Serif" stroke="#000" stroke-width="0.35" textLength="19.2" lengthAdjust="spacingAndGlyphs" >IFNγ</text>
<text x="501.2" y="264.4" font-size="10.5" font-weight="bold" fill="#000" text-anchor="middle" font-family="Liberation Serif" stroke="#000" stroke-width="0.3" textLength="18.6" lengthAdjust="spacingAndGlyphs" transform="rotate(-90 501.2 264.4)" >pg/ml</text>
</svg>
</body></html>
